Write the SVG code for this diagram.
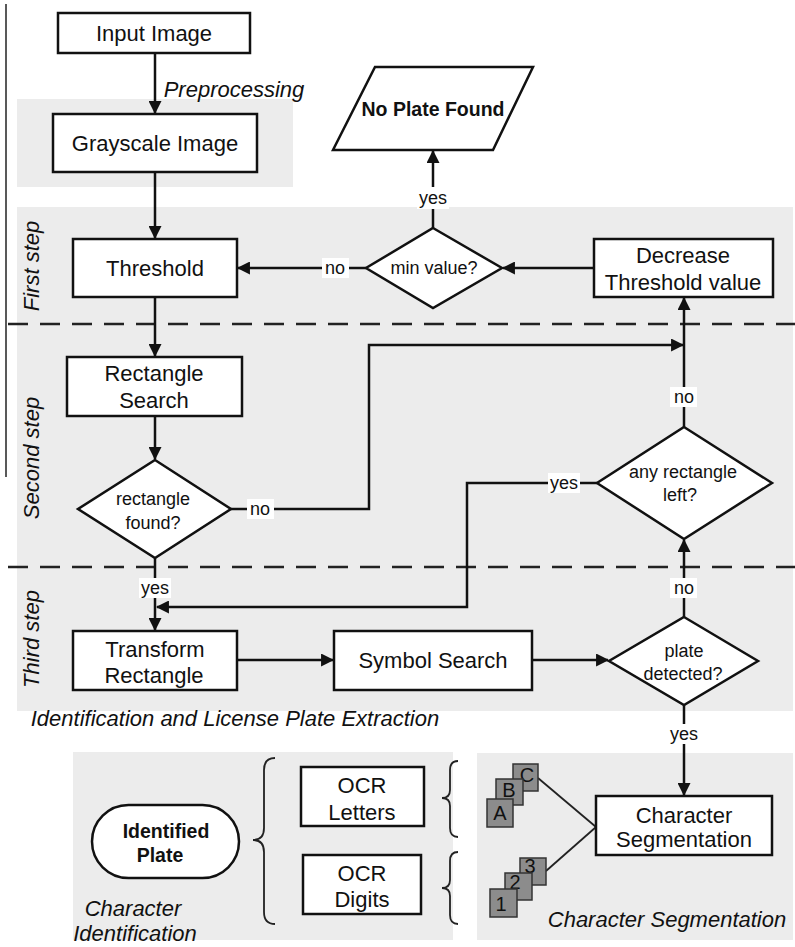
<svg xmlns="http://www.w3.org/2000/svg" width="795" height="947" viewBox="0 0 795 947">
<style>
text{font-family:"Liberation Sans",Arial,sans-serif;fill:#111;text-anchor:middle;dominant-baseline:central}
.b{font-size:22px}
.s{font-size:18px}
.it{font-size:22px;font-style:italic}
.bold{font-size:19.5px;font-weight:bold}
.box{fill:#fff;stroke:#111;stroke-width:2.5}
.ln{fill:none;stroke:#111;stroke-width:2.5}
.dash{fill:none;stroke:#222;stroke-width:2.5;stroke-dasharray:20 12}
.panel{fill:#ececec}
.lbg{fill:#fff}
.tile{fill:#8c8c8c;stroke:#333;stroke-width:1.5}
.tt{font-size:20px;fill:#111}
</style>
<defs>
<marker id="ah" viewBox="0 0 12 12" refX="11" refY="6" markerWidth="13" markerHeight="13" markerUnits="userSpaceOnUse" orient="auto">
<path d="M0,0 L12,6 L0,12 Z" fill="#111"/>
</marker>
</defs>

<!-- panels -->
<rect class="panel" x="17" y="99" width="276" height="88"/>
<rect class="panel" x="17" y="207" width="776" height="504"/>
<rect class="panel" x="73" y="752" width="380" height="188"/>
<rect class="panel" x="477" y="753" width="316" height="187"/>

<line x1="6" y1="4" x2="6" y2="477" stroke="#222" stroke-width="1.5"/>
<line class="dash" x1="8" y1="324" x2="795" y2="324"/>
<line class="dash" x1="8" y1="567" x2="795" y2="567"/>

<text class="it" x="234" y="89">Preprocessing</text>
<text class="it" transform="translate(31,266) rotate(-90)">First step</text>
<text class="it" transform="translate(31,458) rotate(-90)">Second step</text>
<text class="it" transform="translate(31,639) rotate(-90)">Third step</text>
<text class="it" x="235" y="718">Identification and License Plate Extraction</text>
<text class="it" x="133" y="908">Character</text>
<text class="it" x="135" y="933">Identification</text>
<text class="it" x="667" y="919">Character Segmentation</text>

<g id="connectors">
<line class="ln" x1="155" y1="53" x2="155" y2="113" marker-end="url(#ah)"/>
<line class="ln" x1="155" y1="172" x2="155" y2="238" marker-end="url(#ah)"/>
<line class="ln" x1="594" y1="268" x2="503" y2="268" marker-end="url(#ah)"/>
<line class="ln" x1="366" y1="268" x2="238" y2="268" marker-end="url(#ah)"/>
<line class="ln" x1="433" y1="228" x2="433" y2="151" marker-end="url(#ah)"/>
<line class="ln" x1="155" y1="297" x2="155" y2="356" marker-end="url(#ah)"/>
<line class="ln" x1="155" y1="416" x2="155" y2="459" marker-end="url(#ah)"/>
<polyline class="ln" points="231,509 369,509 369,345 683,345" marker-end="url(#ah)"/>
<line class="ln" x1="684" y1="427" x2="684" y2="298" marker-end="url(#ah)"/>
<polyline class="ln" points="597,483 467,483 467,607 157,607" marker-end="url(#ah)"/>
<line class="ln" x1="155" y1="558" x2="155" y2="630" marker-end="url(#ah)"/>
<line class="ln" x1="237" y1="660" x2="333" y2="660" marker-end="url(#ah)"/>
<line class="ln" x1="532" y1="660" x2="608" y2="660" marker-end="url(#ah)"/>
<line class="ln" x1="684" y1="617" x2="684" y2="540" marker-end="url(#ah)"/>
<line class="ln" x1="684" y1="705" x2="684" y2="795" marker-end="url(#ah)"/>
<line x1="538" y1="778" x2="596" y2="827" stroke="#222" stroke-width="1.8"/>
<line x1="546" y1="871" x2="596" y2="827" stroke="#222" stroke-width="1.8"/>
<!-- labels -->
<rect class="lbg" x="417" y="187" width="32" height="22"/><text class="s" x="433" y="198">yes</text>
<rect class="lbg" x="322" y="258" width="27" height="20"/><text class="s" x="335" y="268">no</text>
<rect class="lbg" x="247" y="499" width="27" height="20"/><text class="s" x="260" y="509">no</text>
<rect class="lbg" x="670" y="387" width="27" height="20"/><text class="s" x="684" y="397">no</text>
<rect class="lbg" x="548" y="473" width="32" height="20"/><text class="s" x="564" y="483">yes</text>
<rect class="lbg" x="670" y="578" width="27" height="20"/><text class="s" x="684" y="588">no</text>
<rect class="lbg" x="139" y="578" width="32" height="20"/><text class="s" x="155" y="588">yes</text>
<rect class="lbg" x="668" y="724" width="32" height="20"/><text class="s" x="684" y="734">yes</text>
</g>

<g id="input-image"><rect class="box" x="58" y="13" width="192" height="40"/><text class="b" x="154" y="33">Input Image</text></g>
<g id="grayscale-image"><rect class="box" x="53" y="114" width="204" height="58"/><text class="b" x="155" y="143">Grayscale Image</text></g>
<g id="no-plate-found"><polygon class="box" points="375,67 533,67 493,150 333,150"/><text class="bold" x="433" y="109">No Plate Found</text></g>
<g id="min-value"><polygon class="box" points="433,228 502,268 433,308 366,268"/><text class="s" x="434" y="268">min value?</text></g>
<g id="decrease-threshold"><rect class="box" x="594" y="239" width="179" height="58"/><text class="b" x="683" y="255">Decrease</text><text class="b" x="683" y="282">Threshold value</text></g>
<g id="threshold"><rect class="box" x="73" y="239" width="164" height="58"/><text class="b" x="155" y="268">Threshold</text></g>
<g id="rectangle-search"><rect class="box" x="67" y="357" width="175" height="59"/><text class="b" x="154" y="373">Rectangle</text><text class="b" x="154" y="400">Search</text></g>
<g id="rectangle-found"><polygon class="box" points="155,460 231,509 155,558 78,509"/><text class="s" x="153" y="499">rectangle</text><text class="s" x="153" y="523">found?</text></g>
<g id="any-rectangle-left"><polygon class="box" points="684,427 772,483 684,539 597,483"/><text class="s" x="683" y="472">any rectangle</text><text class="s" x="680" y="495">left?</text></g>
<g id="transform-rectangle"><rect class="box" x="73" y="631" width="164" height="59"/><text class="b" x="155" y="649">Transform</text><text class="b" x="154" y="675">Rectangle</text></g>
<g id="symbol-search"><rect class="box" x="334" y="631" width="198" height="59"/><text class="b" x="433" y="660">Symbol Search</text></g>
<g id="plate-detected"><polygon class="box" points="684,617 758,661 684,705 609,661"/><text class="s" x="684" y="651">plate</text><text class="s" x="683" y="674">detected?</text></g>
<g id="character-segmentation"><rect class="box" x="596" y="796" width="176" height="59"/><text class="b" x="684" y="815">Character</text><text class="b" x="684" y="839">Segmentation</text></g>
<g id="identified-plate"><rect class="box" x="92" y="805" width="147" height="73" rx="36.5"/><text class="bold" x="166" y="831">Identified</text><text class="bold" x="160" y="855">Plate</text></g>
<g id="ocr-letters"><rect class="box" x="301" y="767" width="123" height="59"/><text class="b" x="362" y="785">OCR</text><text class="b" x="362" y="812">Letters</text></g>
<g id="ocr-digits"><rect class="box" x="303" y="855" width="118" height="59"/><text class="b" x="362" y="873">OCR</text><text class="b" x="362" y="899">Digits</text></g>

<g id="braces" fill="none" stroke="#222" stroke-width="1.8">
<path d="M275,758 Q264,758 264,770 L264,828 Q264,840 253,840 Q264,840 264,852 L264,912 Q264,924 275,924"/>
<path d="M458,761 Q450,761 450,770 L450,790 Q450,798 442,798 Q450,798 450,806 L450,828 Q450,837 458,837"/>
<path d="M458,852 Q450,852 450,861 L450,880 Q450,888 442,888 Q450,888 450,896 L450,915 Q450,924 458,924"/>
</g>

<g id="letter-tiles">
<rect class="tile" x="513" y="764" width="25" height="27"/><text class="tt" x="527" y="775">C</text>
<rect class="tile" x="496" y="779" width="27" height="26"/><text class="tt" x="509" y="790">B</text>
<rect class="tile" x="487" y="799" width="26" height="28"/><text class="tt" x="500" y="813">A</text>
</g>
<g id="digit-tiles">
<rect class="tile" x="520" y="858" width="26" height="27"/><text class="tt" x="530" y="866">3</text>
<rect class="tile" x="505" y="873" width="27" height="27"/><text class="tt" x="515" y="882">2</text>
<rect class="tile" x="490" y="889" width="27" height="28"/><text class="tt" x="501" y="904">1</text>
</g>
</svg>
